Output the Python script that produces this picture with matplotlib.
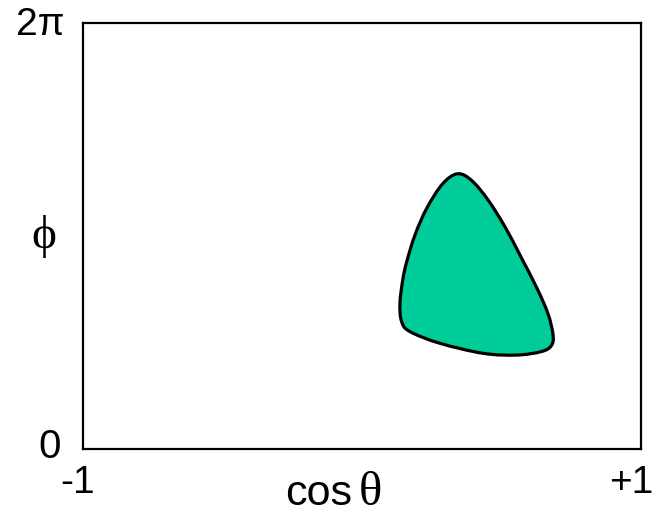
import numpy as np
import matplotlib
matplotlib.use("Agg")
import matplotlib.pyplot as plt
from matplotlib.path import Path
from matplotlib.patches import PathPatch

# Outline of the allowed region (cos theta, phi / pi), clockwise from the apex
cos_theta = [0.342, 0.392, 0.452, 0.513, 0.570, 0.627, 0.667, 0.685,
             0.678, 0.642, 0.554, 0.435, 0.280, 0.172, 0.142, 0.136, 0.146,
             0.160, 0.190, 0.232, 0.289]
phi_over_pi = [1.292, 1.262, 1.169, 1.042, 0.901, 0.755, 0.634, 0.533,
               0.484, 0.457, 0.441, 0.449, 0.496, 0.551, 0.598, 0.684, 0.793,
               0.878, 1.005, 1.130, 1.245]

x_ticklabels = ["-1", "+1"]
y_ticklabels = ["0", "2\u03c0"]

W, H = 656, 514
fig = plt.figure(figsize=(W / 100, H / 100), dpi=100)
ax = fig.add_axes([83 / W, 1 - 449 / H, (641 - 83) / W, (449 - 23) / H])
ax.set_xlim(-1, 1)
ax.set_ylim(0, 2 * np.pi)
ax.set_xticks([])
ax.set_yticks([])
for s in ax.spines.values():
    s.set_linewidth(1.6)
    s.set_color("black")

# smooth closed outline (Catmull-Rom -> cubic Bezier)
px = np.array(cos_theta)
py = np.array(phi_over_pi) * np.pi
n = len(px)
verts = [(px[0], py[0])]
codes = [Path.MOVETO]
for i in range(n):
    p0 = np.array([px[i - 1], py[i - 1]])
    p1 = np.array([px[i], py[i]])
    p2 = np.array([px[(i + 1) % n], py[(i + 1) % n]])
    p3 = np.array([px[(i + 2) % n], py[(i + 2) % n]])
    c1 = p1 + (p2 - p0) / 6
    c2 = p2 - (p3 - p1) / 6
    verts += [tuple(c1), tuple(c2), tuple(p2)]
    codes += [Path.CURVE4] * 3
verts.append((px[0], py[0]))
codes.append(Path.CLOSEPOLY)
patch = PathPatch(Path(verts, codes), facecolor="#00CC99", edgecolor="black",
                  linewidth=2.3, joinstyle="round")
ax.add_patch(patch)

sans = ["Liberation Sans", "DejaVu Sans"]
fig.text(64 / W, 1 - 35 / H, y_ticklabels[1], ha="right", va="baseline",
         fontsize=28, family=sans)
fig.text(61 / W, 1 - 458 / H, y_ticklabels[0], ha="right", va="baseline",
         fontsize=29, family=sans)
fig.text(78 / W, 1 - 493 / H, x_ticklabels[0], ha="center", va="baseline",
         fontsize=28, family=sans)
fig.text(653 / W, 1 - 493 / H, x_ticklabels[1], ha="right", va="baseline",
         fontsize=28, family=sans)
fig.text(352 / W, 1 - 505 / H, "cos", ha="right", va="baseline",
         fontsize=31, family=["Liberation Sans Narrow", "Liberation Sans"])
fig.text(359 / W, 1 - 505 / H, "\u03b8", ha="left", va="baseline",
         fontsize=35, family=["Liberation Serif", "DejaVu Serif"])
fig.text(44 / W, 1 - 237 / H, "\u03d5", ha="center", va="center",
         fontsize=34, family=["Liberation Serif", "DejaVu Serif"])

fig.savefig("out.png", dpi=100)
